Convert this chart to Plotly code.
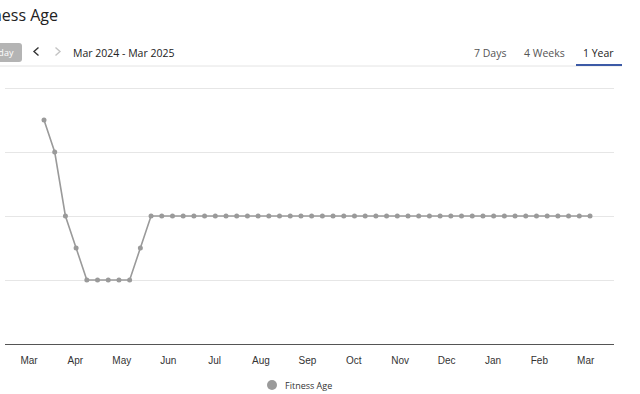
import plotly.graph_objects as go

# ---- data ----
fitness_age = [41, 40, 38, 37, 36, 36, 36, 36, 36, 37] + [38] * 42
week_index = list(range(len(fitness_age)))
month_labels = ["Mar", "Apr", "May", "Jun", "Jul", "Aug", "Sep",
                "Oct", "Nov", "Dec", "Jan", "Feb", "Mar"]
month_positions = [-1.4 + k * 52 / 12 for k in range(len(month_labels))]

W, H = 640, 394
ML, MR, MT, MB = 5, 26, 72, 50
PW, PH = W - ML - MR, H - MT - MB

def px(p):
    return (p - ML) / PW

def py(q):
    return (H - MB - q) / PH

fig = go.Figure()
fig.add_trace(go.Scatter(
    x=week_index, y=fitness_age, mode="lines+markers",
    line=dict(color="#9a9a9a", width=1.6),
    marker=dict(color="#9a9a9a", size=5),
    name="Fitness Age", showlegend=False, hoverinfo="skip"))

shapes = []
shapes.append(dict(type="line", xref="paper", yref="paper",
                   x0=px(0), x1=px(622), y0=py(66), y1=py(66),
                   line=dict(color="#e4e4e4", width=1)))
shapes.append(dict(type="line", xref="paper", yref="paper",
                   x0=px(576), x1=px(622), y0=py(65), y1=py(65),
                   line=dict(color="#3c5aa6", width=2)))
shapes.append(dict(type="path", xref="paper", yref="paper",
                   path=f"M {px(-26)},{py(43)} L {px(19)},{py(43)} Q {px(22)},{py(43)} {px(22)},{py(46)} "
                        f"L {px(22)},{py(59)} Q {px(22)},{py(62)} {px(19)},{py(62)} L {px(-26)},{py(62)} Z",
                   fillcolor="#b4b4b4", line=dict(width=0)))
shapes.append(dict(type="path", xref="paper", yref="paper",
                   path=f"M {px(38.5)},{py(47.5)} L {px(34)},{py(51.5)} L {px(38.5)},{py(55.5)}",
                   line=dict(color="#333333", width=1.4)))
shapes.append(dict(type="path", xref="paper", yref="paper",
                   path=f"M {px(55.5)},{py(47.5)} L {px(60)},{py(51.5)} L {px(55.5)},{py(55.5)}",
                   line=dict(color="#c4c4c4", width=1.4)))
shapes.append(dict(type="circle", xref="paper", yref="paper",
                   x0=px(267), x1=px(277), y0=py(380), y1=py(390),
                   fillcolor="#9a9a9a", line=dict(width=0)))

hdr = "Open Sans"
annotations = [
    dict(text="Fitness Age", x=px(59.5), y=py(15), xanchor="right", yanchor="middle",
         font=dict(family=hdr, size=16, color="#222222")),
    dict(text="Today", x=px(0.5), y=py(52.5), xanchor="center", yanchor="middle",
         font=dict(family=hdr, size=9, color="#ffffff")),
    dict(text="Mar 2024 - Mar 2025", x=px(71), y=py(53), xanchor="left", yanchor="middle",
         font=dict(family=hdr, size=10.5, color="#222222")),
    dict(text="7 Days", x=px(489.5), y=py(53), xanchor="center", yanchor="middle",
         font=dict(family=hdr, size=10.5, color="#555555")),
    dict(text="4 Weeks", x=px(544.7), y=py(53), xanchor="center", yanchor="middle",
         font=dict(family=hdr, size=10.5, color="#555555")),
    dict(text="1 Year", x=px(598.7), y=py(53), xanchor="center", yanchor="middle",
         font=dict(family=hdr, size=10.5, color="#222222")),
    dict(text="Fitness Age", x=px(283), y=py(385), xanchor="left", yanchor="middle",
         font=dict(family=hdr, size=9, color="#333333")),
]
for a in annotations:
    a.update(xref="paper", yref="paper", showarrow=False)

fig.update_layout(
    width=W, height=H,
    margin=dict(l=ML, r=MR, t=MT, b=MB, pad=0),
    paper_bgcolor="white", plot_bgcolor="white",
    showlegend=False,
    shapes=shapes, annotations=annotations,
    xaxis=dict(range=[(5 - 44) / 10.706, (614 - 44) / 10.706], tickmode="array",
               tickvals=month_positions, ticktext=month_labels,
               showgrid=False, zeroline=False, showline=True,
               linecolor="#555555", linewidth=1,
               ticks="outside", ticklen=7, tickcolor="rgba(0,0,0,0)",
               tickfont=dict(family="Liberation Sans", size=10, color="#333333")),
    yaxis=dict(range=[34, 42.5], tickmode="linear", tick0=34, dtick=2,
               showgrid=True, gridcolor="#e6e6e6", gridwidth=1,
               zeroline=False, showline=False, showticklabels=False),
)

fig.write_html("out.html",
               config={"displayModeBar": False},
               post_script="document.body.style.margin='0';document.body.style.overflow='hidden';")
